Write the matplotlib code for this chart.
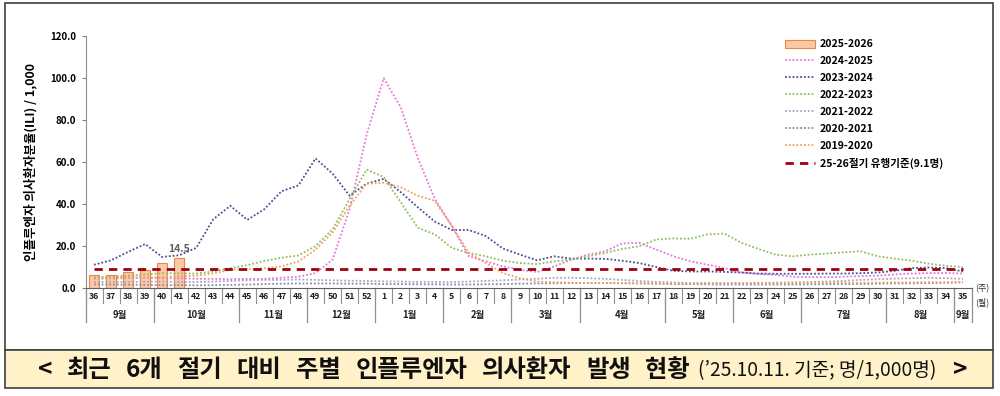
import numpy as np
import matplotlib.pyplot as plt
from matplotlib.patches import Rectangle, Patch
from matplotlib.lines import Line2D

plt.rcParams['font.family'] = ['Noto Sans CJK KR', 'DejaVu Sans']

# 주차 (36주 ~ 다음해 35주)
weeks = list(range(36, 53)) + list(range(1, 36))
months = ['9월', '10월', '11월', '12월', '1월', '2월', '3월', '4월', '5월', '6월', '7월', '8월', '9월']
month_weeks = [4, 5, 4, 4, 4, 4, 4, 5, 4, 4, 5, 4, 1]

# 2025-2026 절기 (36~41주)
s2526 = [6.2, 6.4, 7.9, 8.8, 12.0, 14.5]

s2425 = [5.0, 5.0, 5.2, 5.0, 4.8, 4.8, 4.5, 4.5, 4.3, 4.5, 4.5, 5.0, 5.5, 7.2, 13.6, 37.6, 73.0,
         99.8, 86.0, 62.0, 42.5, 29.6, 15.2, 12.8, 10.4, 8.8, 7.7, 10.4, 13.6, 16.0, 17.6, 21.3, 21.6,
         18.4, 15.2, 12.8, 11.2, 9.6, 7.5, 6.8, 6.4, 5.5, 5.3, 5.3, 5.5, 5.8, 6.0, 6.6, 7.0, 7.2, 7.3, 7.0]
s2324 = [11.2, 13.3, 17.3, 21.0, 14.9, 15.7, 19.2, 32.8, 39.2, 32.5, 37.6, 46.1, 48.9, 61.7, 54.5, 44.0, 49.7,
         52.0, 45.7, 38.5, 31.7, 27.7, 27.7, 24.8, 18.9, 16.0, 13.3, 15.2, 14.1, 14.1, 14.0, 13.1, 12.0,
         10.1, 8.3, 8.0, 8.0, 7.8, 7.5, 7.0, 6.9, 6.9, 6.9, 7.0, 7.0, 7.2, 7.5, 8.3, 9.6, 9.9, 9.6, 8.0]
s2223 = [5.2, 5.5, 6.0, 6.5, 7.2, 7.1, 7.0, 8.0, 9.6, 11.0, 13.0, 14.5, 15.6, 20.0, 28.0, 42.4, 56.4,
         52.9, 40.9, 28.8, 25.6, 19.2, 16.8, 15.2, 13.1, 12.0, 11.5, 12.8, 13.6, 15.2, 16.8, 18.7, 20.0,
         23.2, 23.7, 23.5, 25.6, 26.0, 21.6, 18.7, 16.0, 15.2, 16.0, 16.5, 17.1, 17.6, 15.2, 14.1, 13.1,
         11.7, 10.7, 10.1]
s2122 = [3.0, 3.0, 3.0, 3.1, 3.2, 3.0, 3.0, 3.2, 3.5, 3.8, 4.0, 4.0, 4.2, 4.0, 3.8, 3.6, 3.5,
         3.3, 3.2, 3.0, 3.0, 3.0, 3.2, 3.5, 3.8, 4.2, 4.5, 5.0, 5.0, 4.8, 4.5, 4.0, 3.5,
         3.0, 2.8, 2.5, 2.5, 2.5, 2.5, 2.6, 2.7, 2.8, 3.0, 3.2, 3.5, 4.0, 4.3, 4.6, 4.8, 5.0, 4.8, 4.5]
s2021 = [1.8, 1.8, 1.7, 1.6, 1.5, 1.5, 1.4, 1.5, 1.6, 1.8, 2.0, 2.2, 2.3, 2.3, 2.3, 2.2, 2.2,
         2.0, 2.0, 1.9, 1.9, 1.8, 1.8, 1.9, 2.0, 2.2, 2.3, 2.4, 2.5, 2.5, 2.5, 2.4, 2.3,
         2.2, 2.0, 2.0, 1.9, 1.8, 1.8, 1.8, 1.8, 1.8, 1.9, 2.0, 2.0, 2.1, 2.2, 2.3, 2.4, 2.5, 2.6, 2.8]
s1920 = [4.5, 4.6, 4.8, 5.0, 5.3, 5.7, 6.0, 7.0, 8.8, 9.0, 9.5, 10.4, 12.8, 18.4, 26.4, 39.2, 49.7,
         50.1, 48.0, 44.0, 41.6, 29.6, 16.8, 12.0, 7.2, 4.8, 3.2, 2.9, 2.6, 2.5, 2.5, 2.4, 2.4,
         2.3, 2.3, 2.3, 2.3, 2.3, 2.3, 2.3, 2.4, 2.4, 2.5, 2.5, 2.6, 2.6, 2.7, 2.8, 2.8, 2.9, 2.9, 3.0]

threshold = 9.1

seasons = ['2024-2025', '2023-2024', '2022-2023', '2021-2022', '2020-2021', '2019-2020']
series = [s2425, s2324, s2223, s2122, s2021, s1920]
colors = ['#e874d8', '#4c4c98', '#8cc05a', '#aaa4c6', '#8a8aa6', '#f2a060']

title_words = ['<', '최근', '6개', '절기', '대비', '주별', '인플루엔자', '의사환자', '발생', '현황']
title_note = '(’25.10.11. 기준; 명/1,000명)'

fig = plt.figure(figsize=(10, 3.96), dpi=100)
W, H = 1000, 396

# 바깥 테두리와 제목 띠
fig.patches.append(Rectangle((5 / W, 1 - 350 / H), 988 / W, 347 / H, transform=fig.transFigure,
                             facecolor='white', edgecolor='#404040', lw=1.2, zorder=-2))
fig.patches.append(Rectangle((5 / W, 1 - 388 / H), 988 / W, 38 / H, transform=fig.transFigure,
                             facecolor='#fff2c8', edgecolor='#404040', lw=1.2, zorder=-1))

ax = fig.add_axes([85.5 / W, 1 - 288.3 / H, 886 / W, 252.6 / H])
ax.patch.set_alpha(0)
x = np.arange(len(weeks))

ax.bar(x[:len(s2526)], s2526, width=0.58, color='#fcc8a6', edgecolor='#e6884a', lw=0.8, zorder=2)
ax.text(x[len(s2526) - 1], s2526[-1] + 1.8, f'{s2526[-1]:.1f}', ha='center', va='bottom',
        fontsize=7.5, color='#606060', fontweight='bold')

for s, c in zip(series, colors):
    ax.plot(x, s, color=c, lw=1.3, linestyle=(0, (1, 1.1)), zorder=3)

ax.plot(x, np.full(len(x), threshold), color='#a00010', lw=2.0, dashes=(3, 2.2), zorder=4)

ax.set_xlim(-0.5, len(weeks) - 0.5)
ax.set_ylim(0, 120)
ax.set_yticks(np.arange(0, 121, 20))
ax.set_yticklabels([f'{v:.1f}' for v in np.arange(0, 121, 20)], fontsize=7, fontweight='bold')
ax.tick_params(axis='y', length=3, width=0.8, color='#808080', pad=4)
ax.set_ylabel('인플루엔자 의사환자분율(ILI) / 1,000', fontsize=9, fontweight='bold', labelpad=9)

ax.spines['top'].set_visible(False)
ax.spines['right'].set_visible(False)
ax.spines['left'].set_color('#909090')
ax.spines['bottom'].set_color('#606060')

# x축: 주 / 월 표시
ax.set_xticks([])
trans = ax.get_xaxis_transform()
for i, w in enumerate(weeks):
    ax.text(i, -0.034, str(w), transform=trans, ha='center', va='center', fontsize=6.3,
            fontweight='bold', color='#202020')
for i in range(len(weeks) + 1):
    ax.plot([i - 0.5, i - 0.5], [0, -0.06], transform=trans, color='#909090', lw=0.8, clip_on=False)
start = 0
for m, n in zip(months, month_weeks):
    ax.plot([start - 0.5, start - 0.5], [0, -0.135], transform=trans, color='#909090', lw=0.9,
            clip_on=False)
    ax.text(start - 0.5 + n / 2, -0.105, m, transform=trans, ha='center', va='center',
            fontsize=6.8, fontweight='bold', color='#202020')
    start += n
ax.plot([start - 0.5, start - 0.5], [0, -0.135], transform=trans, color='#909090', lw=0.9,
        clip_on=False)
ax.text(1.004, 0.0, '(주)', transform=ax.transAxes, ha='left', va='center', fontsize=6.5, color='#303030')
ax.text(1.004, -0.055, '(월)', transform=ax.transAxes, ha='left', va='center', fontsize=6.5, color='#303030')

# 범례
handles = [Patch(facecolor='#fcc8a6', edgecolor='#e6884a', lw=0.8)]
handles += [Line2D([], [], color=c, lw=1.3, linestyle=(0, (1, 1.1))) for c in colors]
handles.append(Line2D([], [], color='#a00010', lw=2.0, dashes=(3, 2.2)))
labels = ['2025-2026'] + seasons + ['25-26절기 유행기준(9.1명)']
fig.legend(handles, labels, loc='upper left', bbox_to_anchor=(781 / W, 1 - 35 / H), frameon=False,
           prop={'size': 7.6, 'weight': 'bold'}, handlelength=2.8, handleheight=0.8,
           labelspacing=0.66, handletextpad=0.45, borderaxespad=0)

# 제목: 단어를 38px ~ 690px 구간에 고르게 배치
fig.canvas.draw()
r = fig.canvas.get_renderer()
ty = 1 - 370 / H
txts = [fig.text(0, ty, w_, fontsize=17.5, fontweight='bold', va='center', ha='left', color='#101010')
        for w_ in title_words]
widths = [t.get_window_extent(r).width for t in txts]
gap = (690 - 38 - sum(widths)) / (len(txts) - 1)
pos = 38
for t, wd in zip(txts, widths):
    t.set_x(pos / W)
    pos += wd + gap
fig.text(698 / W, ty - 1 / H, title_note, fontsize=13.8, va='center', ha='left', color='#101010')
fig.text(953 / W, ty, '>', fontsize=17.5, fontweight='bold', va='center', ha='left', color='#101010')

fig.savefig('out.png', dpi=100)
